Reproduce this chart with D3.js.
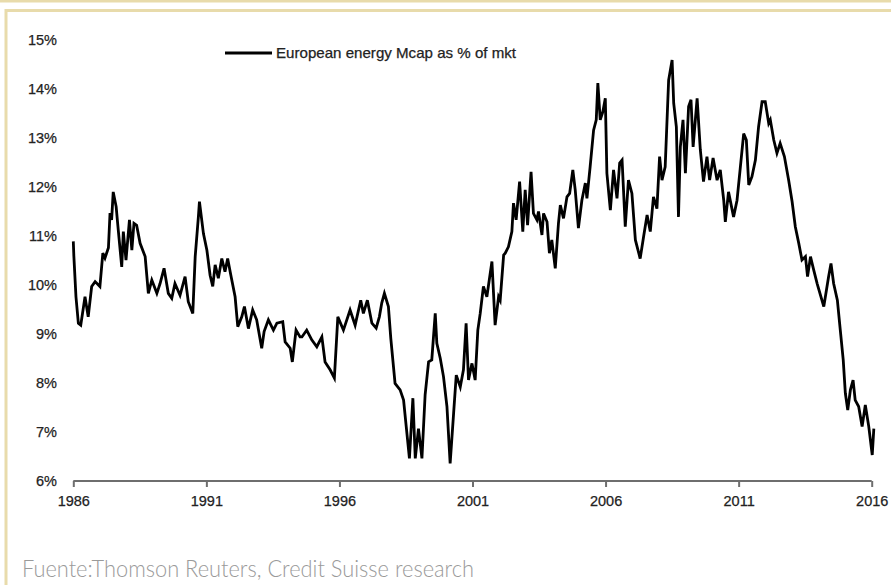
<!DOCTYPE html>
<html>
<head>
<meta charset="utf-8">
<script src="https://cdn.jsdelivr.net/npm/d3@7"></script>
<style>
  body { margin: 0; background: #fff; }
</style>
</head>
<body>
<div id="chart"></div>
<script>
// Data (decimal years, % of market)
const years = [
  1986.00, 1986.02, 1986.10, 1986.19, 1986.28, 1986.44, 1986.56, 1986.69, 1986.82, 1987.00,
  1987.11, 1987.19, 1987.32, 1987.38, 1987.44, 1987.50, 1987.61, 1987.69, 1987.82, 1987.88,
  1987.98, 1988.11, 1988.20, 1988.28, 1988.38, 1988.51, 1988.70, 1988.82, 1988.95, 1989.14,
  1989.26, 1989.41, 1989.57, 1989.70, 1989.82, 1990.01, 1990.20, 1990.32, 1990.49, 1990.58,
  1990.70, 1990.74, 1990.89, 1991.02, 1991.14, 1991.24, 1991.33, 1991.45, 1991.58, 1991.70,
  1991.80, 1991.92, 1992.08, 1992.18, 1992.33, 1992.43, 1992.58, 1992.74, 1992.89, 1993.08,
  1993.17, 1993.33, 1993.52, 1993.65, 1993.87, 1993.96, 1994.15, 1994.23, 1994.37, 1994.52,
  1994.59, 1994.77, 1994.96, 1995.15, 1995.34, 1995.46, 1995.65, 1995.81, 1995.94, 1996.15,
  1996.40, 1996.59, 1996.80, 1996.90, 1997.05, 1997.22, 1997.38, 1997.50, 1997.59, 1997.69,
  1997.84, 1997.93, 1998.09, 1998.28, 1998.41, 1998.51, 1998.63, 1998.76, 1998.85, 1998.97,
  1999.10, 1999.22, 1999.35, 1999.47, 1999.60, 1999.66, 1999.79, 1999.91, 2000.04, 2000.16,
  2000.29, 2000.39, 2000.54, 2000.66, 2000.76, 2000.85, 2000.98, 2001.10, 2001.20, 2001.29,
  2001.41, 2001.54, 2001.73, 2001.85, 2001.98, 2002.04, 2002.17, 2002.23, 2002.35, 2002.48,
  2002.54, 2002.64, 2002.77, 2002.89, 2002.98, 2003.07, 2003.20, 2003.29, 2003.42, 2003.48,
  2003.61, 2003.67, 2003.80, 2003.89, 2003.98, 2004.11, 2004.23, 2004.30, 2004.42, 2004.55,
  2004.65, 2004.77, 2004.86, 2004.98, 2005.11, 2005.24, 2005.30, 2005.42, 2005.55, 2005.65,
  2005.71, 2005.80, 2005.90, 2005.99, 2006.05, 2006.18, 2006.30, 2006.43, 2006.53, 2006.62,
  2006.74, 2006.86, 2006.99, 2007.12, 2007.30, 2007.43, 2007.56, 2007.68, 2007.80, 2007.93,
  2008.03, 2008.12, 2008.24, 2008.37, 2008.50, 2008.56, 2008.66, 2008.74, 2008.81, 2008.91,
  2009.00, 2009.12, 2009.21, 2009.29, 2009.44, 2009.56, 2009.68, 2009.81, 2009.91, 2010.04,
  2010.19, 2010.31, 2010.44, 2010.50, 2010.62, 2010.81, 2010.94, 2011.06, 2011.19, 2011.29,
  2011.38, 2011.50, 2011.63, 2011.75, 2011.88, 2012.00, 2012.13, 2012.19, 2012.32, 2012.44,
  2012.56, 2012.72, 2012.88, 2013.01, 2013.13, 2013.26, 2013.38, 2013.51, 2013.59, 2013.70,
  2013.82, 2013.95, 2014.20, 2014.38, 2014.47, 2014.57, 2014.71, 2014.82, 2014.93, 2015.01,
  2015.10, 2015.20, 2015.30, 2015.38, 2015.51, 2015.64, 2015.76, 2015.89, 2016.02, 2016.08
];
const values = [
  10.89, 10.60, 9.76, 9.22, 9.18, 9.76, 9.35, 9.97, 10.07, 9.97,
  10.65, 10.55, 10.76, 11.47, 11.33, 11.90, 11.60, 11.12, 10.37, 11.09,
  10.51, 11.33, 10.71, 11.26, 11.22, 10.85, 10.58, 9.83, 10.10, 9.83,
  10.03, 10.34, 9.83, 9.73, 10.03, 9.79, 10.17, 9.66, 9.42, 10.58,
  11.39, 11.70, 11.05, 10.71, 10.20, 9.97, 10.41, 10.14, 10.54, 10.27,
  10.54, 10.20, 9.76, 9.15, 9.35, 9.56, 9.11, 9.49, 9.29, 8.71,
  9.05, 9.29, 9.08, 9.22, 9.25, 8.84, 8.71, 8.43, 9.08, 8.94,
  8.94, 9.08, 8.88, 8.74, 8.94, 8.43, 8.27, 8.10, 9.35, 9.08,
  9.49, 9.18, 9.69, 9.42, 9.69, 9.22, 9.12, 9.35, 9.63, 9.83,
  9.56, 8.91, 7.99, 7.86, 7.65, 7.11, 6.46, 7.69, 6.46, 7.07,
  6.46, 7.76, 8.43, 8.47, 9.42, 8.81, 8.50, 8.13, 7.52, 6.36,
  7.38, 8.16, 7.92, 8.27, 9.22, 8.06, 8.40, 8.06, 9.08, 9.42,
  9.97, 9.76, 10.48, 9.18, 9.76, 9.69, 10.61, 10.65, 10.78, 11.09,
  11.67, 11.33, 12.11, 11.09, 11.94, 11.22, 12.31, 11.46, 11.33, 11.50,
  11.02, 11.46, 11.29, 10.65, 10.92, 10.34, 11.26, 11.63, 11.36, 11.80,
  11.87, 12.35, 11.94, 11.16, 11.73, 12.08, 11.77, 12.41, 13.16, 13.37,
  14.12, 13.37, 13.54, 13.81, 12.28, 11.53, 12.35, 11.77, 12.49, 12.55,
  11.19, 12.14, 11.87, 10.92, 10.54, 10.99, 11.43, 11.09, 11.80, 11.56,
  12.62, 12.14, 12.41, 14.18, 14.59, 13.71, 13.23, 11.39, 12.82, 13.37,
  12.28, 13.64, 13.78, 12.82, 13.81, 12.76, 12.11, 12.62, 12.14, 12.59,
  12.14, 12.35, 11.73, 11.29, 11.90, 11.39, 11.73, 12.38, 13.09, 12.96,
  12.04, 12.21, 12.55, 13.23, 13.74, 13.74, 13.30, 13.37, 12.96, 12.69,
  12.89, 12.62, 12.14, 11.70, 11.19, 10.85, 10.51, 10.58, 10.17, 10.58,
  10.31, 10.03, 9.56, 10.17, 10.44, 10.03, 9.69, 9.08, 8.47, 7.79,
  7.45, 7.86, 8.06, 7.65, 7.52, 7.11, 7.55, 7.11, 6.53, 7.07
];
const xTicks = [1986, 1991, 1996, 2001, 2006, 2011, 2016];
const yTicks = [6, 7, 8, 9, 10, 11, 12, 13, 14, 15];
const seriesName = "European energy Mcap as % of mkt";
const sourceText = "Fuente:Thomson Reuters, Credit Suisse research";

const width = 891;
const height = 585;
const frame = "#e8dbab";
const labelFont = "'Liberation Sans', Arial, sans-serif";

const svg = d3.select("#chart")
  .append("svg")
  .attr("width", width)
  .attr("height", height)
  .style("display", "block");

svg.append("rect")
  .attr("width", width).attr("height", height)
  .attr("fill", "#fff");

// beige frame
svg.append("rect")
  .attr("x", 0).attr("y", 0)
  .attr("width", width).attr("height", 2.5)
  .attr("fill", frame);
svg.append("rect")
  .attr("x", 6).attr("y", 10.5)
  .attr("width", width + 20).attr("height", height + 20)
  .attr("fill", "none")
  .attr("stroke", frame)
  .attr("stroke-width", 3);

// Scales
const x = d3.scaleLinear().domain([1986, 2016]).range([73.3, 871.7]);
const y = d3.scaleLinear().domain([6, 15]).range([481, 40]);

// Y axis (labels only)
const yAxis = svg.append("g")
  .attr("transform", "translate(57,0)")
  .call(d3.axisLeft(y).tickValues(yTicks).tickSize(0).tickPadding(0)
    .tickFormat(d => d + "%"));
yAxis.select(".domain").remove();
yAxis.selectAll("text")
  .attr("font-family", labelFont)
  .attr("font-size", 14.5)
  .attr("fill", "#222")
  .attr("stroke", "#222")
  .attr("stroke-width", 0.25);

// X axis
const xAxis = svg.append("g")
  .attr("transform", `translate(0,${y(6)})`)
  .call(d3.axisBottom(x).tickValues(xTicks).tickSize(6).tickPadding(9)
    .tickFormat(d3.format("d")));
xAxis.select(".domain")
  .attr("stroke", "#6e6e6e")
  .attr("stroke-width", 2)
  .attr("d", `M${x(1986)},0H${x(2016)}`);
xAxis.selectAll(".tick line")
  .attr("stroke", "#6e6e6e")
  .attr("stroke-width", 2);
xAxis.selectAll("text")
  .attr("font-family", labelFont)
  .attr("font-size", 14.5)
  .attr("fill", "#222")
  .attr("stroke", "#222")
  .attr("stroke-width", 0.25);

// Line
const data = years.map((d, i) => ({ t: d, v: values[i] }));
const line = d3.line()
  .x(d => x(d.t))
  .y(d => y(d.v));

svg.append("path")
  .datum(data)
  .attr("fill", "none")
  .attr("stroke", "#000")
  .attr("stroke-width", 2.8)
  .attr("stroke-linejoin", "miter")
  .attr("d", line);

// Legend
svg.append("line")
  .attr("x1", 225).attr("x2", 272)
  .attr("y1", 53).attr("y2", 53)
  .attr("stroke", "#000")
  .attr("stroke-width", 2.8);
svg.append("text")
  .attr("x", 276).attr("y", 58)
  .attr("font-family", labelFont)
  .attr("font-size", 14.5)
  .attr("fill", "#222")
  .attr("stroke", "#222")
  .attr("stroke-width", 0.25)
  .attr("textLength", 240)
  .attr("lengthAdjust", "spacingAndGlyphs")
  .text(seriesName);

// Source
svg.append("text")
  .attr("x", 22).attr("y", 577)
  .attr("font-family", "Lato, 'Open Sans', sans-serif")
  .attr("font-weight", 300)
  .attr("font-size", 23)
  .attr("fill", "#9a9a9a")
  .attr("textLength", 452)
  .attr("lengthAdjust", "spacingAndGlyphs")
  .text(sourceText);
</script>
</body>
</html>
